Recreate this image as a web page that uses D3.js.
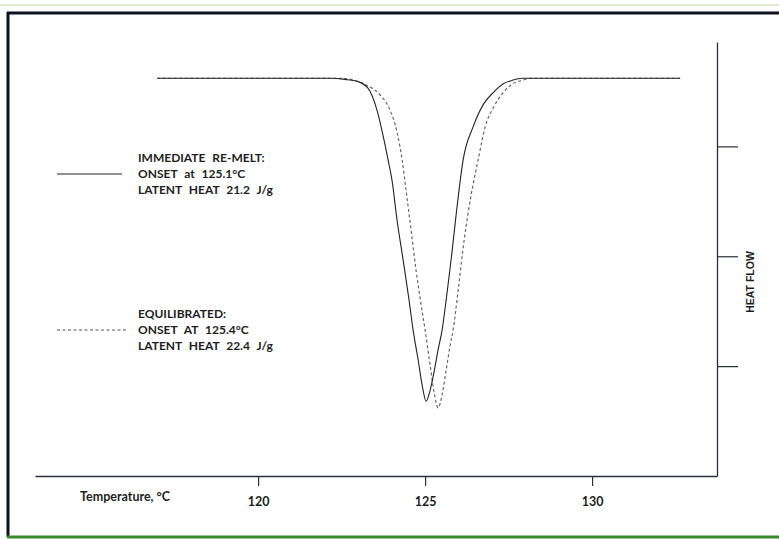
<!DOCTYPE html>
<html><head><meta charset="utf-8">
<script src="https://cdn.jsdelivr.net/npm/d3@7"></script>
<style>
html,body{margin:0;padding:0;background:#fff;}
svg{display:block;}
text{font-family:Lato,"Open Sans",sans-serif;fill:#1e1e1e;}
</style></head>
<body>
<svg id="chart" width="779" height="539"></svg>
<script>
// Temperature (°C) and heat flow (arbitrary units) — immediate re-melt (solid)
const tempRemelt = [116.98, 122.16, 122.60, 122.99, 123.29, 123.56, 123.74, 123.89, 124.01, 124.16, 124.34, 124.52, 124.64, 124.79, 124.91, 125.03, 125.15, 125.27, 125.39, 125.51, 125.63, 125.78, 125.93, 126.14, 126.44, 126.74, 127.04, 127.34, 127.60, 127.90, 132.63];
const flowRemelt = [3.62, 3.62, 3.61, 3.59, 3.53, 3.33, 3.10, 2.88, 2.69, 2.33, 1.97, 1.60, 1.33, 1.06, 0.83, 0.68, 0.78, 0.95, 1.15, 1.33, 1.60, 1.97, 2.38, 2.88, 3.18, 3.38, 3.49, 3.57, 3.60, 3.62, 3.62];
// Equilibrated (dashed)
const tempEquil = [116.98, 122.46, 122.90, 123.29, 123.65, 123.95, 124.16, 124.31, 124.43, 124.58, 124.73, 124.88, 125.00, 125.15, 125.27, 125.39, 125.51, 125.63, 125.75, 125.84, 125.99, 126.17, 126.38, 126.59, 126.80, 127.04, 127.34, 127.63, 127.90, 128.20, 132.69];
const flowEquil = [3.62, 3.62, 3.60, 3.55, 3.47, 3.33, 3.13, 2.88, 2.60, 2.24, 1.87, 1.56, 1.33, 1.01, 0.76, 0.62, 0.74, 0.96, 1.19, 1.33, 1.69, 2.15, 2.56, 2.88, 3.18, 3.35, 3.49, 3.57, 3.60, 3.62, 3.62];
const xTicks = [120, 125, 130];
const yTicks = [1, 2, 3];
const legendRemelt = ["IMMEDIATE RE-MELT:", "ONSET at 125.1°C", "LATENT HEAT 21.2 J/g"];
const legendEquil = ["EQUILIBRATED:", "ONSET AT 125.4°C", "LATENT HEAT 22.4 J/g"];
const xTitle = "Temperature, °C";
const yTitle = "HEAT FLOW";

const svg = d3.select("#chart");

// frame
svg.append("line").attr("x1",0).attr("x2",779).attr("y1",5).attr("y2",5).attr("stroke","#dfeccb").attr("stroke-width",2);
svg.append("line").attr("x1",7).attr("x2",779).attr("y1",13).attr("y2",13).attr("stroke","#0c1020").attr("stroke-width",3);
svg.append("line").attr("x1",8).attr("x2",8).attr("y1",12).attr("y2",537).attr("stroke","#0c1020").attr("stroke-width",3);
svg.append("line").attr("x1",7).attr("x2",779).attr("y1",537).attr("y2",537).attr("stroke","#3c8a2e").attr("stroke-width",3);

const x = d3.scaleLinear().domain([113.32, 133.74]).range([35, 717]);
const y = d3.scaleLinear().domain([0, 3.95]).range([476, 42]);

// bottom axis
const xAxis = svg.append("g").attr("transform","translate(0,476)")
  .call(d3.axisBottom(x).tickValues(xTicks).tickSize(10).tickSizeOuter(0).tickPadding(11).tickFormat(d3.format("d")));
xAxis.select(".domain").attr("stroke","#2a2f3a").attr("stroke-width",1.3);
xAxis.selectAll(".tick line").attr("stroke","#2a2f3a").attr("stroke-width",1.2);
xAxis.selectAll(".tick text").style("font-family","Lato, sans-serif").style("font-size","12.5px").style("font-weight","bold").attr("fill","#1e1e1e");

// right axis
const yAxis = svg.append("g").attr("transform","translate(717,0)")
  .call(d3.axisRight(y).tickValues(yTicks).tickSize(21).tickSizeOuter(0).tickFormat(""));
yAxis.select(".domain").attr("stroke","#2a2f3a").attr("stroke-width",1.3);
yAxis.selectAll(".tick line").attr("stroke","#2a2f3a").attr("stroke-width",1.2);

svg.append("text").attr("x",80).attr("y",501).style("font-size","12.5px").style("font-weight","bold").text(xTitle);
svg.append("text").attr("transform","translate(754,282) rotate(-90)").attr("text-anchor","middle")
  .style("font-family","Liberation Sans, Arial, sans-serif").style("font-size","10.5px").style("font-weight","bold").text(yTitle);

// curves
const line = d3.line().x(d => x(d[0])).y(d => y(d[1])).curve(d3.curveMonotoneX);
const remelt = tempRemelt.map((t,i) => [t, flowRemelt[i]]);
const equil = tempEquil.map((t,i) => [t, flowEquil[i]]);
svg.append("path").datum(equil).attr("d", line).attr("fill","none").attr("stroke","#666").attr("stroke-width",1.2).attr("stroke-dasharray","3,2.5");
svg.append("path").datum(remelt).attr("d", line).attr("fill","none").attr("stroke","#222").attr("stroke-width",1.1);

// legends
function legend(lines, y0, dashed) {
  svg.append("line").attr("x1",57).attr("x2",dashed?127:122).attr("y1",y0+16-4).attr("y2",y0+16-4)
    .attr("stroke", dashed ? "#555" : "#222").attr("stroke-width",1.1).attr("stroke-dasharray", dashed ? "3,2.5" : null);
  lines.forEach((s,i) => {
    svg.append("text").attr("x",138).attr("y",y0 + i*16).style("font-size","12px").style("font-weight","bold")
      .style("word-spacing","4px").text(s);
  });
}
legend(legendRemelt, 162, false);
legend(legendEquil, 318, true);
</script>
</body></html>
